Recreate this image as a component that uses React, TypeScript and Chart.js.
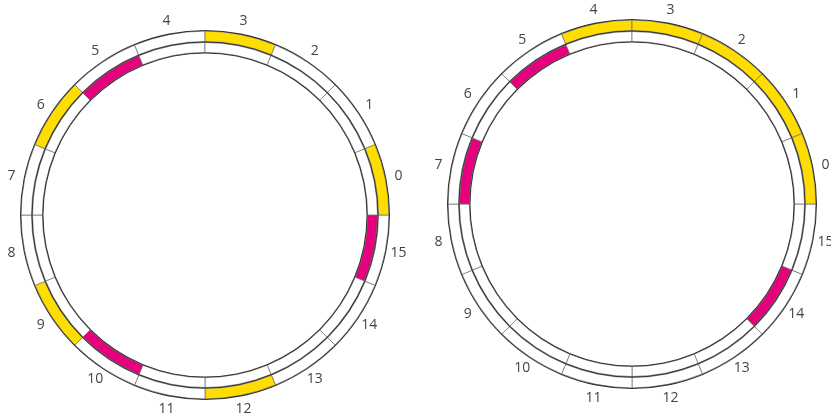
import React, { useEffect, useRef } from 'react';
import { Chart, registerables } from 'chart.js';

Chart.register(...registerables);

// 16 equal sectors, numbered counter-clockwise from the east (3 o'clock) direction
const SECTORS = ['0', '1', '2', '3', '4', '5', '6', '7', '8', '9', '10', '11', '12', '13', '14', '15'];
const SECTOR_SIZES = [1, 1, 1, 1, 1, 1, 1, 1, 1, 1, 1, 1, 1, 1, 1, 1];

// left ring
const LEFT_OUTER_MARKED = [0, 3, 6, 9, 12];
const LEFT_INNER_MARKED = [5, 10, 15];
// right ring
const RIGHT_OUTER_MARKED = [0, 1, 2, 3, 4];
const RIGHT_INNER_MARKED = [5, 7, 14];

const YELLOW = '#FFDD00';
const MAGENTA = '#E6007E';
const EMPTY = '#FFFFFF';
const LINE = '#333333';
const DIVIDER = '#6a6a6a';
const LABEL = '#444444';

const CANVAS = 430;

const labelPlugin = {
  id: 'sectorLabels',
  afterDatasetsDraw(chart: any) {
    const meta = chart.getDatasetMeta(1);
    const ctx = chart.ctx;
    ctx.save();
    ctx.font = '14px "Open Sans", "Noto Sans", sans-serif';
    ctx.fillStyle = LABEL;
    ctx.textAlign = 'center';
    ctx.textBaseline = 'middle';
    meta.data.forEach((arc: any, i: number) => {
      const p = arc.getProps(['startAngle', 'endAngle', 'x', 'y', 'outerRadius'], true);
      const mid = (p.startAngle + p.endAngle) / 2;
      const r = p.outerRadius + 13.5;
      ctx.fillText(String(chart.data.labels[i]), p.x + Math.cos(mid) * r, p.y + Math.sin(mid) * r);
    });
    ctx.restore();
  },
};

function Ring({ left, top, outerMarked, innerMarked }: { left: number; top: number; outerMarked: number[]; innerMarked: number[] }) {
  const ref = useRef<HTMLCanvasElement>(null);
  useEffect(() => {
    if (!ref.current) return;
    // chart.js draws clockwise, the sectors run counter-clockwise: reverse
    const labels = [...SECTORS].reverse();
    const sizes = [...SECTOR_SIZES].reverse();
    const colorsFor = (marked: number[], color: string) =>
      labels.map((l) => (marked.includes(Number(l)) ? color : EMPTY));
    const line = (w: number) => ({
      data: [1],
      weight: w,
      backgroundColor: LINE,
      borderWidth: 0,
      order: 0,
    });
    const chart = new Chart(ref.current, {
      type: 'doughnut',
      data: {
        labels,
        datasets: [
          line(1.1),
          {
            data: sizes,
            weight: 10.4,
            backgroundColor: colorsFor(outerMarked, YELLOW),
            borderColor: DIVIDER,
            borderWidth: 0.7,
            order: 1,
          },
          line(1.0),
          {
            data: sizes,
            weight: 9.9,
            backgroundColor: colorsFor(innerMarked, MAGENTA),
            borderColor: DIVIDER,
            borderWidth: 0.7,
            order: 1,
          },
          line(1.1),
        ],
      } as any,
      options: {
        responsive: false,
        maintainAspectRatio: false,
        animation: false,
        events: [],
        rotation: 90,
        radius: 185,
        cutout: `${(161.5 / 185) * 100}%`,
        layout: { padding: 0 },
        plugins: { legend: { display: false }, tooltip: { enabled: false } },
      } as any,
      plugins: [labelPlugin],
    });
    return () => chart.destroy();
  }, []);
  return (
    <canvas
      ref={ref}
      width={CANVAS}
      height={CANVAS}
      style={{ position: 'absolute', left, top, width: CANVAS, height: CANVAS }}
    />
  );
}

export default function App() {
  return (
    <div
      style={{
        position: 'fixed',
        left: 0,
        top: 0,
        width: 831,
        height: 420,
        overflow: 'hidden',
        background: '#ffffff',
      }}
    >
      <Ring left={205 - CANVAS / 2} top={215 - CANVAS / 2} outerMarked={LEFT_OUTER_MARKED} innerMarked={LEFT_INNER_MARKED} />
      <Ring left={632 - CANVAS / 2} top={204 - CANVAS / 2} outerMarked={RIGHT_OUTER_MARKED} innerMarked={RIGHT_INNER_MARKED} />
    </div>
  );
}
